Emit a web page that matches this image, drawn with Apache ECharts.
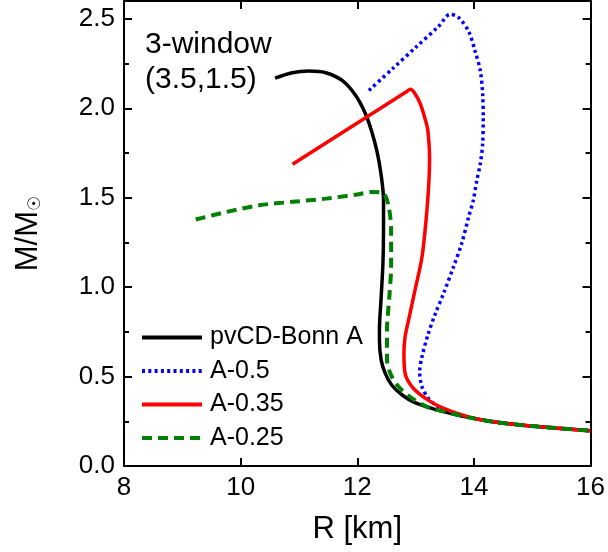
<!DOCTYPE html>
<html>
<head>
<meta charset="utf-8">
<script src="https://cdn.jsdelivr.net/npm/echarts@6/dist/echarts.min.js"></script>
<style>html,body{margin:0;padding:0;background:#fff}#c{width:608px;height:552px}</style>
</head>
<body>
<div id="c"></div>
<script>
var seriesNames = ['pvCD-Bonn A', 'A-0.5', 'A-0.35', 'A-0.25'];
var xTicks = [8, 10, 12, 14, 16];
var yTicks = [0.0, 0.5, 1.0, 1.5, 2.0, 2.5];

var bonnR = [10.59, 10.885, 11.17, 11.46, 11.74, 11.97, 12.14, 12.25, 12.34, 12.41, 12.45, 12.45, 12.44, 12.41, 12.38, 12.38, 12.41, 12.48, 12.59, 12.77, 12.99, 13.28, 13.56, 13.91, 14.36, 14.93, 15.50, 16.00];
var bonnM = [2.169, 2.199, 2.208, 2.199, 2.156, 2.073, 1.970, 1.868, 1.756, 1.626, 1.490, 1.318, 1.132, 0.946, 0.760, 0.704, 0.592, 0.518, 0.453, 0.397, 0.354, 0.322, 0.298, 0.272, 0.246, 0.225, 0.210, 0.197];

var a05R = [12.20, 12.60, 13.00, 13.40, 13.59, 13.73, 13.91, 14.02, 14.11, 14.15, 14.16, 14.15, 14.11, 14.05, 13.99, 13.91, 13.79, 13.65, 13.48, 13.34, 13.21, 13.11, 13.07, 13.11, 13.22, 13.39, 13.62, 13.91, 14.36, 14.93, 15.50, 16.00];
var a05M = [2.100, 2.220, 2.340, 2.460, 2.525, 2.510, 2.430, 2.320, 2.210, 2.080, 1.950, 1.800, 1.690, 1.598, 1.486, 1.393, 1.244, 1.113, 0.965, 0.853, 0.732, 0.611, 0.527, 0.443, 0.378, 0.331, 0.300, 0.272, 0.246, 0.225, 0.210, 0.197];

var a035R = [10.89, 12.85, 12.91, 12.99, 13.08, 13.17, 13.21, 13.24, 13.23, 13.19, 13.11, 12.99, 12.88, 12.82, 12.80, 12.82, 12.94, 13.17, 13.45, 13.91, 14.36, 14.93, 15.50, 16.00];
var a035M = [1.687, 2.094, 2.106, 2.082, 2.026, 1.933, 1.877, 1.720, 1.598, 1.412, 1.169, 0.983, 0.816, 0.722, 0.630, 0.518, 0.443, 0.378, 0.326, 0.274, 0.246, 0.225, 0.210, 0.196];

var a025R = [9.23, 9.75, 10.32, 10.89, 11.46, 12.03, 12.25, 12.45, 12.54, 12.58, 12.58, 12.55, 12.51, 12.51, 12.58, 12.71, 12.94, 13.22, 13.56, 13.91, 14.36, 14.93, 15.50, 16.00];
var a025M = [1.378, 1.420, 1.458, 1.477, 1.495, 1.520, 1.532, 1.523, 1.449, 1.318, 1.113, 0.946, 0.760, 0.592, 0.508, 0.443, 0.378, 0.328, 0.298, 0.272, 0.246, 0.225, 0.210, 0.197];

function pairs(r, m) { return r.map(function (v, i) { return [v, m[i]]; }); }

var FONT = 'Liberation Sans, Arial, sans-serif';
var chart = echarts.init(document.getElementById('c'), null, {renderer: 'canvas'});

function isTick(v, arr) { return arr.some(function (t) { return Math.abs(t - v) < 1e-6; }); }

var axisLineStyle = {color: '#000', width: 2};
chart.setOption({
  animation: false,
  backgroundColor: '#fff',
  title: {
    text: '3-window\n(3.5,1.5)',
    left: 145, top: 27, padding: 0,
    textStyle: {fontFamily: FONT, fontSize: 30, fontWeight: 'normal', color: '#000', lineHeight: 35}
  },
  legend: {
    orient: 'vertical', left: 140, top: 325, padding: 0,
    itemWidth: 60, itemHeight: 14, itemGap: 8.5,
    data: seriesNames,
    itemStyle: {opacity: 0},
    lineStyle: {width: 4},
    textStyle: {fontFamily: FONT, fontSize: 25, color: '#000', lineHeight: 24, padding: [0, 0, 0, 3]}
  },
  grid: {left: 124, right: 16, top: 1, bottom: 86, containLabel: false},
  xAxis: [{
    type: 'value', min: 8, max: 16, interval: 2,
    name: 'R [km]', nameLocation: 'middle', nameGap: 48,
    nameTextStyle: {fontFamily: FONT, fontSize: 31, color: '#000'},
    axisLine: {show: true, onZero: false, lineStyle: axisLineStyle},
    axisTick: {show: true, inside: true, length: 8, lineStyle: {color: '#000', width: 2}},
    axisLabel: {fontFamily: FONT, fontSize: 26, color: '#000', margin: 9,
      formatter: function (v) { return isTick(v, xTicks) ? String(v) : ''; }},
    splitLine: {show: false}
  }, {
    type: 'value', min: 8, max: 16, interval: 2, position: 'top',
    axisLine: {show: true, onZero: false, lineStyle: axisLineStyle},
    axisTick: {show: true, inside: true, length: 8, lineStyle: {color: '#000', width: 2}},
    axisLabel: {show: false}, splitLine: {show: false}
  }],
  yAxis: [{
    type: 'value', min: 0, max: 2.6, interval: 0.5,
    name: '{m|M/M}{s|☉}', nameLocation: 'middle', nameGap: 80, nameRotate: 90,
    nameTextStyle: {rich: {
      m: {fontFamily: FONT, fontSize: 31, color: '#000'},
      s: {fontFamily: 'DejaVu Sans, sans-serif', fontSize: 17, color: '#000', verticalAlign: 'bottom', padding: [12, 0, 0, 0]}
    }},
    axisLine: {show: true, onZero: false, lineStyle: axisLineStyle},
    axisTick: {show: true, inside: true, length: 8, lineStyle: {color: '#000', width: 2}},
    minorTick: {show: true, splitNumber: 2, length: 5, lineStyle: {color: '#000', width: 2}},
    axisLabel: {fontFamily: FONT, fontSize: 26, color: '#000', margin: 9,
      formatter: function (v) { return isTick(v, yTicks) ? v.toFixed(1) : ''; }},
    splitLine: {show: false}, minorSplitLine: {show: false}
  }, {
    type: 'value', min: 0, max: 2.6, interval: 0.5, position: 'right',
    axisLine: {show: true, onZero: false, lineStyle: axisLineStyle},
    axisTick: {show: true, inside: true, length: 8, lineStyle: {color: '#000', width: 2}},
    minorTick: {show: true, splitNumber: 2, length: 5, lineStyle: {color: '#000', width: 2}},
    axisLabel: {show: false}, splitLine: {show: false}, minorSplitLine: {show: false}
  }],
  series: [{
    name: seriesNames[0], type: 'line', data: pairs(bonnR, bonnM), showSymbol: false, symbol: 'none', smooth: 0.3,
    lineStyle: {color: '#000000', width: 3.5}, itemStyle: {color: '#000000'}, z: 3
  }, {
    name: seriesNames[1], type: 'line', data: pairs(a05R, a05M), showSymbol: false, symbol: 'none', smooth: 0.3,
    lineStyle: {color: '#0000ff', width: 3.5, type: [3, 3.3]}, itemStyle: {color: '#0000ff'}, z: 2
  }, {
    name: seriesNames[2], type: 'line', data: pairs(a035R, a035M), showSymbol: false, symbol: 'none', smooth: 0.3,
    lineStyle: {color: '#ff0000', width: 3.5}, itemStyle: {color: '#ff0000'}, z: 4
  }, {
    name: seriesNames[3], type: 'line', data: pairs(a025R, a025M), showSymbol: false, symbol: 'none', smooth: 0.3,
    lineStyle: {color: '#008000', width: 4, type: [10, 6]}, itemStyle: {color: '#008000'}, z: 5
  }]
});
</script>
</body>
</html>
